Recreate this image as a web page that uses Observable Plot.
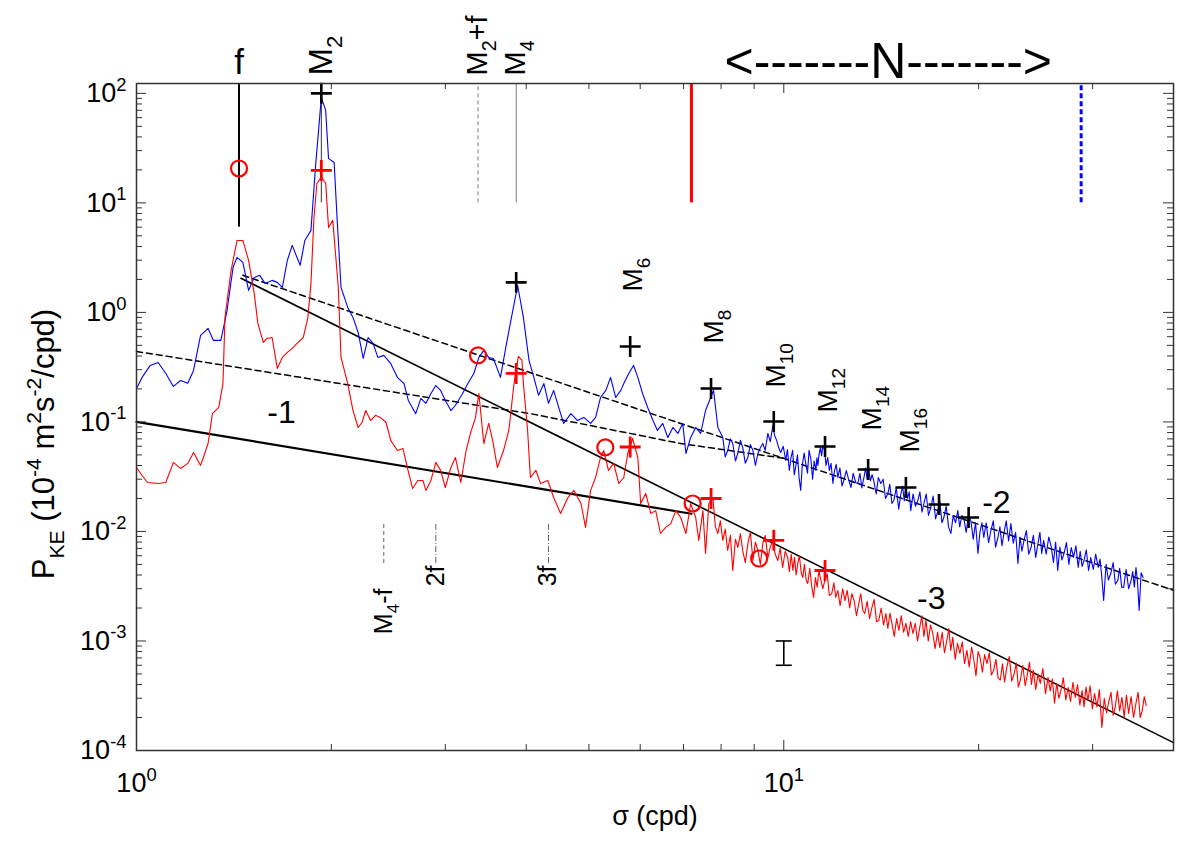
<!DOCTYPE html>
<html><head><meta charset="utf-8">
<script src="https://cdn.jsdelivr.net/npm/d3@7"></script>
<script src="https://cdn.jsdelivr.net/npm/@observablehq/plot@0.6"></script>
<style>
body{margin:0;background:#fff}
svg{font-family:"Liberation Sans",Arial,Helvetica,sans-serif}
</style>
</head><body><div id="chart"></div>
<script>
// ---------- spectra (sigma in cpd, P_KE in 1e-4 m^2 s^-2 / cpd) ----------
// low-frequency part, blue
const blueSigma = [1.00,1.02,1.05,1.08,1.11,1.14,1.17,1.20,1.225,1.256,1.29,1.315,1.35,1.38,1.41,1.43,1.46,1.49,1.52,1.55,1.58,1.62,1.65,1.68,1.71,1.74,1.79,1.82,1.86,1.89,1.93,1.96,1.98,2.02,2.04,2.07,2.12,2.16,2.20,2.24,2.28,2.32,2.36,2.41,2.47,2.53,2.59,2.63,2.70,2.75,2.80,2.85,2.90,2.95,3.00,3.06,3.11,3.19,3.25,3.32,3.38,3.44,3.50,3.56,3.65,3.72,3.78,3.88,3.96,4.04,4.11,4.18,4.26,4.33,4.41,4.49,4.57,4.69,4.80,4.91,5.03,5.12,5.21,5.31,5.40,5.50,5.60,5.66,5.76,5.86,5.95,6.05,6.16,6.28,6.38,6.50,6.62,6.74,6.86,6.98,7.06,7.18,7.31,7.44,7.57,7.71,7.79,7.91];
const blueP = [0.202,0.255,0.328,0.349,0.277,0.211,0.239,0.225,0.295,0.616,
0.714,0.555,0.555,1.04,2.58,3.18,2.86,1.59,2.08,2.18,
1.84,1.96,1.88,1.69,2.98,4.09,2.69,4.54,5.61,21.1,
91.9,69.9,25.5,23.4,7.69,1.69,1.11,0.90,0.656,0.380,
0.590,0.521,0.388,0.405,0.342,0.255,0.224,0.157,0.119,0.164,
0.148,0.182,0.215,0.194,0.157,0.127,0.142,0.182,0.224,0.277,
0.388,0.450,0.388,0.380,0.255,0.479,0.793,1.76,0.90,0.364,
0.255,0.175,0.224,0.148,0.194,0.136,0.097,0.119,0.103,0.110,
0.097,0.110,0.167,0.194,0.255,0.167,0.194,0.224,0.277,0.328,
0.255,0.182,0.136,0.103,0.0836,0.097,0.0721,0.089,0.0785,0.097,
0.0515,0.0721,0.089,0.0785,0.127,0.167,0.194,0.089];
// high-frequency part, blue: [sigma, P]
const blueHi = [[8.05,0.0721],[8.12,0.048],[8.19,0.0548],[8.27,0.070],[8.34,0.0635],[8.42,0.044],[8.49,0.0515],[8.57,0.068],[8.64,0.0585],[8.72,0.042],[8.80,0.0473],[8.88,0.062],[8.96,0.0548],[9.04,0.040],[9.12,0.0515],[9.20,0.058],[9.28,0.0635],[9.36,0.055],[9.45,0.0785],[9.53,0.066],[9.62,0.0929],[9.68,0.075],[9.75,0.0678],[9.82,0.058],[9.89,0.0526],[9.98,0.060],[10.07,0.0445],
[10.13,0.056],[10.20,0.036],[10.26,0.0473],[10.32,0.055],[10.38,0.033],[10.43,0.0384],[10.50,0.050],[10.56,0.031],[10.62,0.0237],[10.68,0.040],[10.75,0.052],[10.81,0.0418],[10.88,0.034],[10.94,0.055],[11.01,0.0463],[11.08,0.030],[11.14,0.044],[11.21,0.0361],[11.25,0.047],[11.29,0.040],[11.33,0.0494],[11.39,0.058],[11.44,0.049],[11.49,0.0610],[11.56,0.055],[11.62,0.040],[11.69,0.0473],[11.76,0.036],[11.83,0.042],[11.91,0.0274],[11.98,0.036],[12.05,0.041],[12.12,0.0311],[12.21,0.038],[12.30,0.026],[12.38,0.0292],[12.49,0.036],[12.59,0.030],[12.70,0.0252],[12.80,0.034],[12.91,0.028],[13.01,0.0274],[13.11,0.034],[13.20,0.025],[13.30,0.0311],[13.38,0.038],[13.45,0.030],[13.53,0.0361],[13.61,0.029],[13.69,0.033],[13.77,0.0292],[13.89,0.022],[14.00,0.031],[14.12,0.0274],[14.24,0.030],[14.36,0.020],[14.48,0.0222],[14.58,0.027],[14.69,0.018],[14.79,0.0192],[14.92,0.025],[15.05,0.016],[15.17,0.0222],[15.26,0.026],[15.35,0.019],[15.44,0.0252],[15.53,0.020],[15.62,0.023],[15.71,0.0155],[15.84,0.022],[15.97,0.017],[16.11,0.0192],[16.23,0.023],[16.35,0.015],[16.46,0.0180],[16.60,0.022],[16.73,0.014],[16.87,0.0166],[17.01,0.021],[17.16,0.013],[17.30,0.0155],[17.42,0.019],[17.55,0.012],[17.67,0.0134],[17.82,0.017],[17.97,0.011],[18.12,0.00958],[18.27,0.014],[18.42,0.012],[18.57,0.0155],[18.70,0.011],[18.84,0.014],[18.97,0.0134],[19.13,0.0098],[19.29,0.014],[19.45,0.0126],[19.62,0.0085],[19.78,0.012],[19.95,0.0063],[20.09,0.0098],[20.23,0.012],[20.37,0.00881],[20.54,0.012],[20.72,0.0079],[20.89,0.0102],[21.07,0.0125],[21.24,0.0072],[21.42,0.00881],[21.57,0.011],[21.73,0.0074],[21.88,0.00958],[22.06,0.0125],[22.25,0.0082],[22.43,0.0118],[22.62,0.0078],[22.81,0.0098],[23.0,0.0051],[23.17,0.0089],[23.33,0.0066],[23.5,0.00828],[23.7,0.0102],[23.9,0.0062],[24.1,0.00714],[24.3,0.0092],[24.5,0.0058],[24.7,0.00777],[24.87,0.0098],[25.03,0.0063],[25.2,0.00828],[25.43,0.0062],[25.67,0.0089],[25.9,0.00714],[26.1,0.0052],[26.3,0.0080],[26.5,0.00441],[26.7,0.0072],[26.9,0.0055],[27.1,0.0063],[27.33,0.0079],[27.57,0.0050],[27.8,0.00714],[28.03,0.0058],[28.27,0.0074],[28.5,0.00469],[28.7,0.0066],[28.9,0.0048],[29.1,0.00543],[29.33,0.0068],[29.57,0.0044],[29.8,0.00578],[30.07,0.0045],[30.33,0.0062],[30.6,0.00469],[30.8,0.0056],[31.0,0.0038],[31.2,0.00234],[31.47,0.0050],[31.73,0.0036],[32.0,0.00413],[32.27,0.0052],[32.53,0.0033],[32.8,0.00356],[33.03,0.0046],[33.27,0.0031],[33.5,0.00308],[33.8,0.0045],[34.1,0.0030],[34.4,0.00356],[34.6,0.0043],[34.8,0.0031],[35.0,0.00469],[35.2,0.0034],[35.4,0.0019],[35.65,0.0042],[35.9,0.0038]];

// low-frequency part, red
const redSigma = [1.00,1.02,1.04,1.08,1.11,1.14,1.17,1.20,1.225,1.256,1.29,1.31,1.34,1.36,1.37,1.40,1.43,1.46,1.49,1.52,1.54,1.57,1.59,1.62,1.65,1.68,1.71,1.74,1.77,1.81,1.84,1.86,1.88,1.90,1.93,1.96,1.98,2.01,2.05,2.07,2.12,2.16,2.20,2.23,2.26,2.30,2.34,2.38,2.43,2.47,2.53,2.58,2.62,2.67,2.72,2.77,2.80,2.85,2.90,2.95,3.00,3.06,3.11,3.17,3.23,3.28,3.34,3.38,3.44,3.50,3.55,3.61,3.69,3.76,3.83,3.89,3.94,3.96,4.02,4.06,4.14,4.21,4.32,4.41,4.52,4.64,4.74,4.86,4.94,5.03,5.12,5.21,5.27,5.36,5.46,5.56,5.66,5.74,5.84,5.95,6.01,6.12,6.23,6.34,6.45,6.57,6.69,6.81,6.93,7.06,7.18,7.31,7.39,7.50,7.57,7.66];
const redP = [0.0384,0.0324,0.0280,0.0274,0.0280,0.0427,0.0376,0.0418,0.0526,0.0401,
0.0635,0.119,0.136,0.224,0.90,2.42,4.54,4.54,2.98,1.49,
0.793,0.532,0.578,0.590,0.308,0.388,0.431,0.469,0.521,0.590,
0.90,1.84,7.36,15.1,17.1,15.1,5.97,6.92,1.69,0.388,
0.224,0.127,0.089,0.0988,0.127,0.103,0.115,0.110,0.0988,0.0678,
0.0548,0.0573,0.0384,0.0247,0.0292,0.0292,0.0237,0.0292,0.0427,0.0361,
0.0252,0.0384,0.0473,0.0280,0.0548,0.0785,0.110,0.182,0.0635,0.097,
0.0678,0.0384,0.0548,0.0836,0.224,0.396,0.364,0.224,0.0836,0.0311,
0.0361,0.0274,0.0292,0.0204,0.0146,0.0204,0.0237,0.0180,0.0109,0.0237,
0.0311,0.0473,0.0548,0.0361,0.0418,0.0274,0.0311,0.0515,0.0706,0.0473,
0.0180,0.0222,0.0146,0.0155,0.00958,0.0109,0.0118,0.0155,0.0134,0.00958,
0.0180,0.0134,0.00828,0.0155,0.0063,0.0180];
// high-frequency part, red: [sigma, P]
const redHi = [[7.77,0.0204],[7.84,0.011],[7.91,0.00958],[7.98,0.0125],[8.05,0.00828],[8.12,0.0105],[8.19,0.0067],[8.27,0.0092],[8.34,0.00441],[8.42,0.0085],[8.49,0.00714],[8.57,0.0095],[8.64,0.0067],[8.72,0.0052],[8.80,0.00777],[8.88,0.0098],[8.96,0.00543],[9.04,0.0080],[9.12,0.0067],[9.20,0.0050],[9.28,0.00777],[9.36,0.0092],[9.45,0.00578],[9.53,0.0072],[9.62,0.00828],[9.70,0.0062],[9.79,0.00543],[9.87,0.0070],[9.96,0.00469],[10.05,0.0066],[10.14,0.00578],[10.20,0.0043],[10.27,0.0062],[10.33,0.00441],[10.39,0.0058],[10.45,0.0040],[10.51,0.0051],[10.57,0.0060],[10.64,0.0042],[10.70,0.0038],[10.76,0.0050],[10.83,0.0036],[10.89,0.00335],[10.97,0.0046],[11.04,0.0032],[11.12,0.00249],[11.19,0.0038],[11.26,0.0031],[11.33,0.00441],[11.41,0.0036],[11.49,0.0030],[11.57,0.00356],[11.67,0.0041],[11.76,0.0026],[11.86,0.00271],[11.95,0.0034],[12.03,0.0025],[12.12,0.00289],[12.22,0.0021],[12.33,0.0030],[12.43,0.00234],[12.53,0.0029],[12.64,0.0020],[12.74,0.00271],[12.85,0.0023],[12.95,0.0017],[13.06,0.0022],[13.15,0.0027],[13.25,0.0019],[13.34,0.00178],[13.45,0.0023],[13.57,0.0016],[13.68,0.00202],[13.79,0.0024],[13.91,0.0015],[14.02,0.00154],[14.14,0.0020],[14.26,0.0014],[14.38,0.00178],[14.48,0.0013],[14.59,0.0018],[14.69,0.00145],[14.81,0.0011],[14.94,0.0016],[15.06,0.00125],[15.19,0.0017],[15.31,0.0012],[15.44,0.00145],[15.57,0.0011],[15.70,0.0015],[15.83,0.00117],[15.96,0.00145],[16.09,0.0010],[16.22,0.00133],[16.34,0.0017],[16.46,0.0011],[16.58,0.00154],[16.72,0.0010],[16.85,0.0014],[16.99,0.00117],[17.13,0.00085],[17.28,0.0012],[17.42,0.00087],[17.57,0.0012],[17.71,0.00078],[17.86,0.00101],[17.99,0.0013],[18.11,0.00082],[18.24,0.00108],[18.40,0.00068],[18.55,0.00095],[18.71,0.00077],[18.87,0.00098],[19.02,0.00062],[19.18,0.00082],[19.34,0.00058],[19.51,0.00088],[19.67,0.00066],[19.81,0.00048],[19.96,0.00080],[20.1,0.00071],[20.27,0.00052],[20.43,0.00075],[20.6,0.00062],[20.77,0.00078],[20.93,0.00049],[21.1,0.00054],[21.27,0.00068],[21.43,0.00046],[21.6,0.00044],[21.77,0.00062],[21.93,0.00042],[22.1,0.00057],[22.3,0.00072],[22.5,0.00043],[22.7,0.000505],[22.87,0.00063],[23.03,0.00038],[23.2,0.00044],[23.4,0.00060],[23.6,0.00039],[23.8,0.000505],[23.97,0.00064],[24.13,0.00040],[24.3,0.00054],[24.5,0.00036],[24.7,0.00050],[24.9,0.00041],[25.13,0.00056],[25.37,0.00033],[25.6,0.000465],[25.8,0.00035],[26.0,0.00045],[26.2,0.00027],[26.4,0.00041],[26.6,0.00030],[26.8,0.000353],[27.03,0.00046],[27.27,0.00029],[27.5,0.000376],[27.73,0.00028],[27.97,0.00042],[28.2,0.000305],[28.43,0.00040],[28.67,0.00026],[28.9,0.000353],[29.1,0.00025],[29.3,0.00038],[29.5,0.000286],[29.73,0.00039],[29.97,0.00024],[30.2,0.000331],[30.47,0.00025],[30.73,0.00036],[31.0,0.000162],[31.27,0.00030],[31.53,0.00022],[31.8,0.000286],[32.03,0.00034],[32.27,0.00021],[32.5,0.000247],[32.77,0.00035],[33.03,0.00023],[33.3,0.000305],[33.57,0.00020],[33.83,0.00032],[34.1,0.000218],[34.4,0.00031],[34.7,0.00020],[35.0,0.00027],[35.27,0.00034],[35.53,0.00020],[35.8,0.000232],[36.05,0.00031],[36.3,0.000258]];

// ---------- fitted slopes ----------
const fitMinus1Sigma = [1.0, 7.2],  fitMinus1P = [0.1, 0.0145];
const fitMinus3Sigma = [1.45, 40],  fitMinus3P = [2.05, 0.000118];
const fitMinus2Sigma = [1.46, 40],  fitMinus2P = [2.18, 0.0029];
const modelSigma = [1.0, 4.06, 6.93, 10.07], modelP = [0.44, 0.119, 0.0635, 0.0463];

// ---------- tidal peaks ----------
const blackPlusSigma = [1.93, 3.86, 5.79, 7.72, 9.65, 11.58, 13.5, 15.44, 17.37, 19.3];
const blackPlusP     = [100, 1.88, 0.489, 0.202, 0.101, 0.0597, 0.0368, 0.0252, 0.0176, 0.0134];
const redPlusSigma = [1.93, 3.86, 5.79, 7.72, 9.65, 11.58];
const redPlusP     = [19.8, 0.277, 0.059, 0.020, 0.0083, 0.0044];
const redCircleSigma = [1.44, 3.37, 5.30, 7.23, 9.16];
const redCircleP     = [20.6, 0.405, 0.0585, 0.018, 0.00566];

const harmLabels = ["M_{6}","M_{8}","M_{10}","M_{12}","M_{14}","M_{16}"];
const harmLabelSigma = [5.84, 7.79, 9.72, 11.69, 13.68, 15.66];
const harmLabelP = [1.55, 0.52, 0.206, 0.122, 0.0836, 0.0526];

const slopeLabels = ["-1","-2","-3"];
const slopeLabelSigma = [1.675, 21.3, 16.9];
const slopeLabelP = [0.122, 0.0184, 0.00244];

// top annotations
const fSigma = 1.44, fLineLow = 6;
const topLineSigma = {M2: 1.93, M2f: 3.37, M4: 3.86, redN: 7.2, blueN: 28.8};
const topLineLow = 10;
const lowerLineSigma = [2.41, 2.90, 4.33];
const lowerLineLabels = ["M_{4}-f", "2f", "3f"];
const lowerLineLo = 0.0051, lowerLineHi = 0.0121;
const lowerLabelTop = [0.00301, 0.00489, 0.00489];
const nRangeSigma = 14.5, nRangeText = "<-------N------->";

// error bar
const errSigma = 10, errLo = 0.0006, errHi = 0.001;

// axes
const xDomain = [1, 40], yDomain = [1e-4, 123];
const xMajor = [1, 10];
const xMinor = [2,3,4,5,6,7,8,9,20,30];
const yMajor = [1e-4,1e-3,1e-2,1e-1,1,10,100];
const yMinor = [];
for (let k = -4; k <= 1; k++) for (let m = 2; m <= 9; m++) yMinor.push(m * Math.pow(10, k));

// ---------- build ----------
const W = 1200, H = 849, mL = 136, mR = 27, mT = 83, mB = 99;
const pW = W - mL - mR, pH = H - mT - mB;
const zipXY = (xs, ys) => xs.map((x, i) => ({x, y: ys[i]}));

const blue = zipXY(blueSigma, blueP).concat(blueHi.map(([x, y]) => ({x, y})));
const red = zipXY(redSigma, redP).concat(redHi.map(([x, y]) => ({x, y})));
const capSymbol = {draw(ctx, size) { const r = Math.sqrt(size / Math.PI); ctx.moveTo(-r, 0); ctx.lineTo(r, 0); }};
const supFmt = d => `10^{${Math.round(Math.log10(d))}}`;

const chart = Plot.plot({
  width: W, height: H,
  marginLeft: mL, marginRight: mR, marginTop: mT, marginBottom: mB,
  x: {type: "log", domain: xDomain, axis: null},
  y: {type: "log", domain: yDomain, axis: null},
  style: {background: "white", fontFamily: '"Liberation Sans", Arial, sans-serif', overflow: "visible"},
  marks: [
    // vertical annotation lines from the top
    Plot.ruleX([fSigma], {y1: fLineLow, y2: yDomain[1], stroke: "black", strokeWidth: 2}),
    Plot.ruleX([topLineSigma.M2], {y1: topLineLow, y2: yDomain[1], stroke: "#333", strokeWidth: 1}),
    Plot.ruleX([topLineSigma.M2f], {y1: topLineLow, y2: yDomain[1], stroke: "#777", strokeWidth: 1, strokeDasharray: "4,3"}),
    Plot.ruleX([topLineSigma.M4], {y1: topLineLow, y2: yDomain[1], stroke: "#777", strokeWidth: 1}),
    Plot.ruleX([topLineSigma.redN], {y1: topLineLow, y2: yDomain[1], stroke: "#ff0000", strokeWidth: 3}),
    Plot.ruleX([topLineSigma.blueN], {y1: topLineLow, y2: yDomain[1], stroke: "#0000ff", strokeWidth: 3, strokeDasharray: "5,3"}),
    // lower annotation lines
    Plot.ruleX([lowerLineSigma[0]], {y1: lowerLineLo, y2: lowerLineHi, stroke: "#666", strokeWidth: 1, strokeDasharray: "4,3"}),
    Plot.ruleX(lowerLineSigma.slice(1), {y1: lowerLineLo, y2: lowerLineHi, stroke: "#666", strokeWidth: 1, strokeDasharray: "6,2,1,2"}),
    // fits
    Plot.line(zipXY(modelSigma, modelP), {x: "x", y: "y", stroke: "black", strokeWidth: 1.5, strokeDasharray: "6,4"}),
    Plot.line(zipXY(fitMinus2Sigma, fitMinus2P), {x: "x", y: "y", stroke: "black", strokeWidth: 1.5, strokeDasharray: "6,4"}),
    Plot.line(zipXY(fitMinus1Sigma, fitMinus1P), {x: "x", y: "y", stroke: "black", strokeWidth: 2.2}),
    Plot.line(zipXY(fitMinus3Sigma, fitMinus3P), {x: "x", y: "y", stroke: "black", strokeWidth: 1.6}),
    // spectra
    Plot.line(blue, {x: "x", y: "y", stroke: "#0000ff", strokeWidth: 1.1}),
    Plot.line(red, {x: "x", y: "y", stroke: "#ff0000", strokeWidth: 1.1}),
    // markers
    Plot.dot(zipXY(blackPlusSigma, blackPlusP), {x: "x", y: "y", symbol: "plus", r: 6.8, stroke: "black", strokeWidth: 2.6}),
    Plot.dot(zipXY(redPlusSigma, redPlusP), {x: "x", y: "y", symbol: "plus", r: 6.8, stroke: "#ff0000", strokeWidth: 2.8}),
    Plot.dot(zipXY(redCircleSigma, redCircleP), {x: "x", y: "y", symbol: "circle", r: 8, stroke: "#ff0000", strokeWidth: 2.2, fill: "none"}),
    // error bar
    Plot.ruleX([errSigma], {y1: errLo, y2: errHi, stroke: "black", strokeWidth: 1.6}),
    Plot.dot([errLo, errHi], {x: () => errSigma, y: d => d, symbol: capSymbol, r: 8, stroke: "black", strokeWidth: 1.6, fill: "none"}),
    // in-plot labels
    Plot.text(harmLabels, {x: (d, i) => harmLabelSigma[i], y: (d, i) => harmLabelP[i], text: d => d, rotate: -90, textAnchor: "start", lineAnchor: "middle", fontSize: 28, fill: "black"}),
    Plot.text(slopeLabels, {x: (d, i) => slopeLabelSigma[i], y: (d, i) => slopeLabelP[i], text: d => d, textAnchor: "middle", lineAnchor: "middle", fontSize: 32, fill: "black"}),
    Plot.text(lowerLineLabels, {x: (d, i) => lowerLineSigma[i], y: (d, i) => lowerLabelTop[i], text: d => d, rotate: -90, textAnchor: "end", lineAnchor: "middle", fontSize: 25, fill: "black"}),
    // labels above the frame
    Plot.text(["f"], {x: () => fSigma, frameAnchor: "top", dy: -21, text: d => d, textAnchor: "middle", lineAnchor: "middle", fontSize: 35, fill: "black"}),
    Plot.text(["M_{2}"], {x: () => topLineSigma.M2, frameAnchor: "top", dy: -8, text: d => d, rotate: -90, textAnchor: "start", lineAnchor: "middle", fontSize: 33, fill: "black"}),
    Plot.text(["M_{2}+f", "M_{4}"], {x: (d, i) => [topLineSigma.M2f, topLineSigma.M4][i], frameAnchor: "top", dy: -8, text: d => d, rotate: -90, textAnchor: "start", lineAnchor: "middle", fontSize: 29, fill: "black"}),
    Plot.text([nRangeText], {x: () => nRangeSigma, frameAnchor: "top", dy: -22, text: d => d, textAnchor: "middle", lineAnchor: "middle", fontSize: 50, fill: "black"}),
    // ticks (inward, on all four sides)
    Plot.tickX(xMajor, {x: d => d, insetTop: pH - 10, stroke: "#333"}),
    Plot.tickX(xMinor, {x: d => d, insetTop: pH - 6, stroke: "#333"}),
    Plot.tickX(xMajor, {x: d => d, insetBottom: pH - 10, stroke: "#333"}),
    Plot.tickX(xMinor, {x: d => d, insetBottom: pH - 6, stroke: "#333"}),
    Plot.tickY(yMajor, {y: d => d, insetRight: pW - 10, stroke: "#333"}),
    Plot.tickY(yMinor, {y: d => d, insetRight: pW - 6, stroke: "#333"}),
    Plot.tickY(yMajor, {y: d => d, insetLeft: pW - 10, stroke: "#333"}),
    Plot.tickY(yMinor, {y: d => d, insetLeft: pW - 6, stroke: "#333"}),
    Plot.frame({stroke: "#333", strokeWidth: 1.5}),
    // tick labels
    Plot.text(xMajor, {x: d => d, text: supFmt, frameAnchor: "bottom", dy: 33, textAnchor: "middle", lineAnchor: "middle", fontSize: 27, fill: "black"}),
    Plot.text(yMajor, {y: d => d, text: supFmt, frameAnchor: "left", dx: -10, textAnchor: "end", lineAnchor: "middle", fontSize: 27, fill: "black"}),
    // axis titles
    Plot.text(["σ (cpd)"], {frameAnchor: "bottom", dy: 66, text: d => d, textAnchor: "middle", lineAnchor: "middle", fontSize: 27, fill: "black"}),
    Plot.text(["P_{KE} (10^{-4} m^{2}s^{-2}/cpd)"], {frameAnchor: "left", dx: -92, dy: 27, text: d => d, rotate: -90, textAnchor: "middle", lineAnchor: "middle", fontSize: 31, fill: "black"})
  ]
});

document.getElementById("chart").appendChild(chart);

// rich text: ^{..} superscripts and _{..} subscripts as tspans
chart.querySelectorAll("text").forEach(t => {
  const s = t.textContent;
  if (!/[\^_]\{/.test(s)) return;
  const fs = parseFloat(getComputedStyle(t).fontSize) || 20;
  const parts = s.split(/([\^_]\{[^}]*\})/).filter(p => p.length);
  while (t.firstChild) t.removeChild(t.firstChild);
  let shift = 0;
  for (const p of parts) {
    const ts = document.createElementNS("http://www.w3.org/2000/svg", "tspan");
    let target = 0, txt = p, small = false;
    if (p.startsWith("^{")) { target = -0.42 * fs; txt = p.slice(2, -1); small = true; }
    else if (p.startsWith("_{")) { target = 0.3 * fs; txt = p.slice(2, -1); small = true; }
    const d = target - shift; shift = target;
    if (d) ts.setAttribute("dy", d.toFixed(2));
    if (small) ts.setAttribute("font-size", (0.68 * fs).toFixed(1));
    ts.textContent = txt;
    t.appendChild(ts);
  }
});
</script>
</body></html>
